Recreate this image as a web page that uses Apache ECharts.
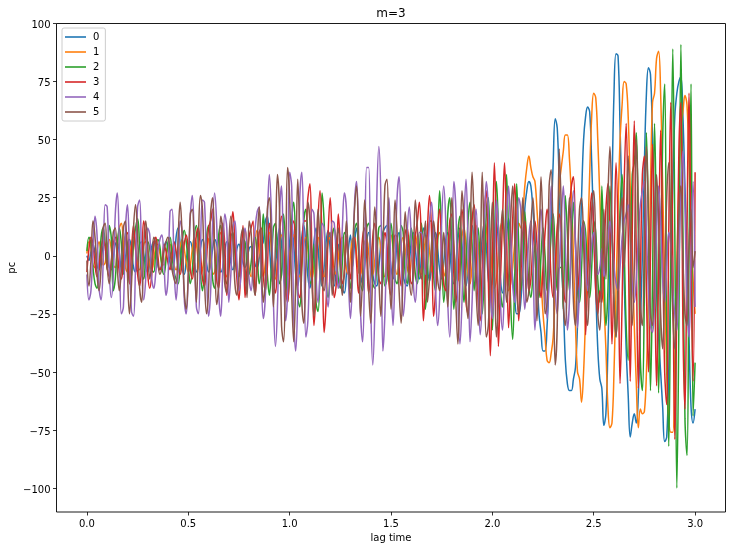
<!DOCTYPE html>
<html><head><meta charset="utf-8">
<style>html,body{margin:0;padding:0;background:#fff}#c{width:732px;height:550px}</style>
<script src="https://cdn.jsdelivr.net/npm/echarts@6/dist/echarts.min.js"></script>
</head><body><div id="c"></div>
<script>
const seriesNames=["0","1","2","3","4","5"];
const colors=["#1f77b4","#ff7f0e","#2ca02c","#d62728","#9467bd","#8c564b"];
const xTicks=[0,0.5,1,1.5,2,2.5,3];
const yTicks=[-100,-75,-50,-25,0,25,50,75,100];
const lagStep=0.01;
const s0=[0,-2,2,5,1,-4,-6,-1,4,5,
0,-5,-6,-1,5,6,1,-6,-7,-1,
5,7,2,-5,-7,-2,5,6,1,-5,
-7,-2,4,6,2,-4,-6,-3,3,6,
3,-3,-6,-3,8,12,5,-6,-8,-2,
4,6,3,-3,-7,-4,3,7,4,-3,
-7,-4,3,7,5,-2,-7,-5,2,6,
4,-3,-6,-3,3,5,2,-3,-5,-2,
3,4,1,-4,-5,-1,4,6,15,17,
5,-8,-12,-5,6,12,5,-8,-14,-6,
6,13,5,-8,-13,-4,8,13,4,-9,
-14,-5,6,12,4,-8,-13,-5,6,11,
3,-8,-13,-6,5,-5,-14,-16,-8,3,
9,-5,5,12,5,-8,-12,-4,6,10,
3,-8,-12,-13,-5,5,10,12,13,5,
-5,-10,-5,6,10,3,-8,-12,-13,-4,
6,10,3,-6,-10,0,12,8,-5,-11,
-4,7,10,3,-6,-10,-3,7,10,3,
-8,-12,-4,7,12,5,-8,-13,-5,8,
13,5,-9,-14,-5,8,14,5,-10,-15,
-8,6,14,6,-10,-16,-8,8,16,8,
-10,-18,-25,-25,-20,-5,20,28,32,30,
20,8,-8,-25,-33,-41,-41,-30,-10,15,
40,59,55,30,0,-20,-45,-55,-58,-58,
-53,-48,-30,-5,25,50,60,64,62,40,
10,-15,-40,-53,-57,-73,-68,-40,-5,30,
70,87,86,55,20,-10,-40,-60,-78,-72,
-68,-72,-60,-30,0,40,70,81,78,50,
15,-15,-35,-50,-65,-80,-78,-50,-10,30,
60,70,75,77,60,30,0,-35,-65,-72,-66];
const s1=[1,6,3,-4,-5,2,6,2,-4,-3,
4,7,3,-4,-5,3,12,14,5,-5,
-7,-2,5,8,3,-4,-6,-1,5,6,
2,-4,-6,-2,4,5,1,-3,-4,0,
4,5,1,-4,-6,-3,4,7,3,-3,
-7,-4,3,8,5,-3,-8,-6,2,8,
7,-1,-8,-7,0,8,10,2,-7,-9,
-3,6,9,4,-5,-8,-2,7,11,5,
-5,-9,-3,7,11,5,-5,-9,-3,7,
10,3,-7,-10,-2,7,9,2,-6,-9,
-2,6,9,3,-6,-9,-3,5,8,3,
-6,-10,-4,5,8,3,-6,-9,-3,6,
8,2,-6,-8,-1,6,8,1,-6,-8,
0,7,8,1,-7,-8,0,6,7,1,
-6,-8,-2,6,8,2,-6,-9,-2,6,
9,3,-5,-8,-2,5,8,3,-5,-8,
-2,6,9,3,-5,-8,-1,7,9,2,
-6,-8,0,8,10,2,-7,-9,-1,8,
11,4,-7,-11,-3,8,12,4,-8,-12,
-4,8,13,5,-9,-14,-5,10,15,6,
-8,-14,-10,0,12,15,5,-8,-15,-12,
-5,5,12,14,12,18,30,38,43,38,
34,32,20,5,-10,-25,-35,-45,-46,-42,
-35,-15,10,30,38,45,52,52,42,25,
0,-30,-50,-53,-63,-50,-25,5,35,60,
70,68,50,25,0,-20,-40,-65,-74,-72,
-50,-15,20,50,65,75,74,60,30,0,
-30,-55,-74,-66,-68,-67,-50,-15,30,66,
70,85,88,70,30,-10,-50,-70,-76,-76,
-45,-5,30,55,62,69,65,40,10,-10,-25];
const s2=[2,8,5,-5,-12,-14,-5,8,12,5,
-6,13,8,-15,-10,5,12,5,-8,10,
3,-12,-8,5,12,16,5,-8,-10,0,
6,3,-6,-7,2,7,4,-5,-8,-2,
6,8,0,-7,-10,-12,-4,6,11,6,
-4,-12,-6,8,13,5,-8,-15,-6,8,
13,5,-10,-14,-5,9,13,4,-9,-12,
-2,8,10,1,-8,-9,1,7,6,-3,
-8,-3,5,8,0,-12,-4,18,5,-8,
-17,-5,12,14,0,-12,-8,18,5,-20,
-8,15,23,5,-18,-22,-5,15,20,8,
-12,-10,5,-20,-24,-5,27,15,-10,-18,
-8,8,12,3,-10,-14,-3,10,8,-5,
-14,-3,11,14,2,-12,-15,-3,12,14,
0,-12,-14,-2,12,13,-2,-13,-10,5,
14,4,-10,-12,0,13,10,-8,-12,2,
12,5,-8,-12,2,14,0,-23,-8,15,
15,-8,-15,5,28,8,-20,-8,18,25,
0,-23,-10,10,17,-5,-20,-5,15,23,
5,-15,0,12,-5,-25,-8,18,25,-5,
-32,5,32,12,-15,-22,-5,35,10,-20,
-36,-10,31,5,-15,-5,19,5,-12,-18,
-8,5,-10,-18,0,12,0,-15,-8,10,
18,0,-15,-5,-5,-23,26,10,-15,5,
23,5,-15,-20,-5,15,10,-10,-18,-5,
15,10,-10,-20,30,0,-30,-15,30,10,
-20,-35,-10,20,35,5,-30,-45,-10,35,
40,53,10,-45,-58,-15,53,15,-58,-10,
57,5,-59,-10,50,74,-30,-82,0,89,
10,-100,-30,91,10,-70,-86,0,74,-69,-46];
const s3=[-7,3,8,5,-4,-9,-5,3,7,4,
-5,-9,-3,5,8,2,-7,-10,-2,8,
10,-12,2,13,3,-8,-13,-3,15,8,
-8,-14,-8,5,8,0,-6,-4,5,2,
-3,-6,0,6,2,-5,-8,-2,5,9,
3,-6,-10,-2,9,12,2,-10,-13,-2,
12,15,20,3,-10,-14,2,14,5,-17,
-8,10,19,5,-10,-19,-3,13,-18,-5,
8,12,15,-17,-5,10,12,-8,-15,-5,
14,8,-10,-16,-5,10,17,5,-14,-20,
-5,12,15,0,-15,-18,-3,15,15,25,
31,0,-30,-15,15,28,5,-33,-20,10,
25,5,-18,-12,18,5,-12,-8,8,-3,
-10,3,8,-3,-16,-5,8,12,0,-16,
-8,8,14,2,-10,-12,0,10,5,-12,
-17,-3,9,8,-5,-13,-2,10,12,0,
-12,-10,8,15,23,5,-28,-10,12,26,
10,-26,-15,10,20,3,-12,-15,0,15,
18,-8,-20,-10,10,20,5,-20,-25,-5,
15,22,5,-20,-28,-5,18,28,-10,-43,
-5,40,10,-39,-10,15,40,10,-31,-10,
15,31,5,-28,-10,10,15,0,-15,-10,
5,15,5,-10,-18,-5,10,20,10,-10,
-18,-5,12,18,5,-12,-20,-5,20,30,
34,5,-15,-5,10,15,-34,-10,15,27,
10,-15,-25,-15,-20,0,20,31,10,-38,
-5,40,10,-55,-20,30,57,10,-54,10,
58,0,-57,-10,35,43,-15,-50,0,48,
0,-56,-5,54,5,-50,-64,10,66,0,
-79,-20,45,66,-30,-66,10,70,0,-54,36];
const s4=[-8,-19,-15,3,17,9,-14,-19,-4,22,
21,-6,-18,-9,18,27,4,-25,-22,11,
22,1,-24,-26,-4,21,24,-3,-19,-10,
12,9,-10,-14,-7,2,7,9,-3,-17,
-10,19,20,-5,-19,-6,15,10,-18,-25,
-8,17,26,5,-22,-25,2,24,23,-6,
-26,-16,14,27,14,-16,-26,-6,18,12,
-20,-8,12,15,-2,-15,-9,5,12,3,
-10,-15,-2,12,19,21,-8,-27,-18,15,
35,18,-20,-39,-22,18,30,-5,-28,-15,
36,30,-25,-41,-18,25,36,5,-35,-28,
0,20,18,-8,-20,-8,14,12,-12,-22,
-5,15,14,-2,-14,-8,12,27,20,-10,
-27,-10,22,32,10,-25,-37,-5,38,38,
-20,-47,-25,25,47,25,-41,-25,10,25,
-10,-30,-5,25,34,5,-26,-15,10,21,
8,-12,-20,-5,10,10,3,-8,0,15,
23,8,-15,-30,-18,15,30,15,-20,-35,
-10,32,20,-20,-38,-20,15,33,5,-37,
-20,10,20,-10,-34,-20,10,32,20,-15,
-27,-8,24,12,-20,-32,-10,15,30,10,
-12,-20,0,25,20,-5,-23,-10,8,15,
0,-32,-15,12,20,2,-15,-27,0,30,
10,-15,-25,-5,15,30,5,-32,-20,15,
28,5,-31,-15,8,14,0,-15,-8,5,
10,0,-8,-5,3,-9,-2,6,15,8,
-5,-12,-15,-5,8,15,18,22,8,-12,
-20,-10,8,22,28,32,10,-15,-30,-33,
-20,10,30,15,-10,-20,-5,10,5,-15,
-25,-32,-5,28,45,20,-20,-35,0,32,-22];
const s5=[-2,-13,-2,15,8,-8,-15,-5,12,14,
-4,-12,-3,10,12,-5,-15,-6,12,15,
-8,-25,-12,12,22,8,-14,-20,3,15,
5,-10,-3,8,5,-3,-8,-5,2,6,
8,2,-6,-10,-12,8,23,8,-15,-23,
-8,18,20,0,-20,8,26,20,-10,-25,
-15,18,25,2,-21,-12,17,10,-12,-16,
5,17,8,-12,-17,-8,8,12,-5,-18,
15,10,-10,-17,5,21,0,-20,-10,20,
25,5,-22,5,35,20,-30,-37,-5,38,
25,-15,-37,-10,33,10,-20,-29,-5,23,
15,-12,-26,-5,20,5,-12,-15,-2,8,
10,-17,-8,5,12,-5,-17,-5,15,-2,
-20,0,20,30,5,-26,-8,24,10,-15,
-29,-5,21,8,-10,-26,0,30,33,0,
-23,-5,24,10,-15,-29,-5,19,5,-10,
-17,-3,24,12,-5,-10,5,15,-20,-10,
5,15,5,-10,-15,-5,10,-5,-22,5,
25,5,-20,-38,-10,28,15,-15,-27,5,
36,15,-15,-30,-5,36,0,-35,-30,-5,
23,0,-35,-20,5,20,5,-20,-10,15,
30,8,-15,-25,0,25,5,-20,-15,12,
25,5,-28,-5,34,10,-25,-20,30,37,
0,-47,-30,46,20,-20,-30,-5,25,10,
-20,-30,-5,20,25,5,-20,-30,-5,20,
28,5,-25,-32,-5,20,-10,25,47,15,
-20,-35,-15,15,25,-5,15,43,10,-30,
-5,50,20,-20,-30,10,47,15,-25,-30,
0,35,15,-25,-40,-10,25,40,10,-25,
-40,-15,20,30,0,-25,-30,5,20,-5,2];
const seriesValues=[s0,s1,s2,s3,s4,s5];
const font='"DejaVu Sans"';
const chart=echarts.init(document.getElementById('c'),null,{renderer:'canvas'});
chart.setOption({
  animation:false,
  backgroundColor:'#fff',
  textStyle:{fontFamily:font},
  title:{text:'m=3',top:8,padding:0,left:391,textAlign:'center',
    textStyle:{fontFamily:font,fontSize:12,fontWeight:'normal',color:'#000'}},
  legend:{left:62,top:28,orient:'vertical',icon:'rect',itemWidth:21,itemHeight:1.6,itemGap:5,padding:[4,6,4,3],
    backgroundColor:'rgba(255,255,255,0.8)',borderColor:'#ccc',borderWidth:1,borderRadius:2,
    textStyle:{fontFamily:font,fontSize:10,color:'#000',lineHeight:10,padding:[0,0,0,2]},data:seriesNames},
  grid:{left:56.5,right:6.5,top:23.5,bottom:38,show:true,borderColor:'#000',borderWidth:0.9,backgroundColor:'transparent',outerBoundsMode:'none'},
  xAxis:{type:'value',min:-0.15,max:3.15,name:'lag time',nameLocation:'middle',nameGap:21,nameMoveOverlap:false,
    nameTextStyle:{fontFamily:font,fontSize:10,color:'#000'},
    axisLine:{show:false,onZero:false},splitLine:{show:false},
    axisTick:{show:true,length:3.5,customValues:xTicks,lineStyle:{color:'#000',width:0.8}},
    axisLabel:{show:true,margin:7,customValues:xTicks,fontFamily:font,fontSize:10,color:'#000',formatter:v=>Number(v).toFixed(1)}},
  yAxis:{type:'value',min:-110.3,max:100,name:'pc',nameLocation:'middle',nameGap:39,nameMoveOverlap:false,
    nameTextStyle:{fontFamily:font,fontSize:10,color:'#000'},
    axisLine:{show:false,onZero:false},splitLine:{show:false},
    axisTick:{show:true,length:3.5,customValues:yTicks,lineStyle:{color:'#000',width:0.8}},
    axisLabel:{show:true,margin:6,verticalAlign:'top',lineHeight:4,customValues:yTicks,fontFamily:font,fontSize:10,color:'#000',formatter:v=>String(v).replace('-','\u2212')}},
  series:seriesNames.map((n,k)=>({name:n,type:'line',showSymbol:false,symbol:'none',smooth:0.4,
    color:colors[k],lineStyle:{width:1.5,color:colors[k]},z:2+k,
    data:seriesValues[k].map((v,i)=>[+(i*lagStep).toFixed(2),v])}))
});
</script></body></html>
